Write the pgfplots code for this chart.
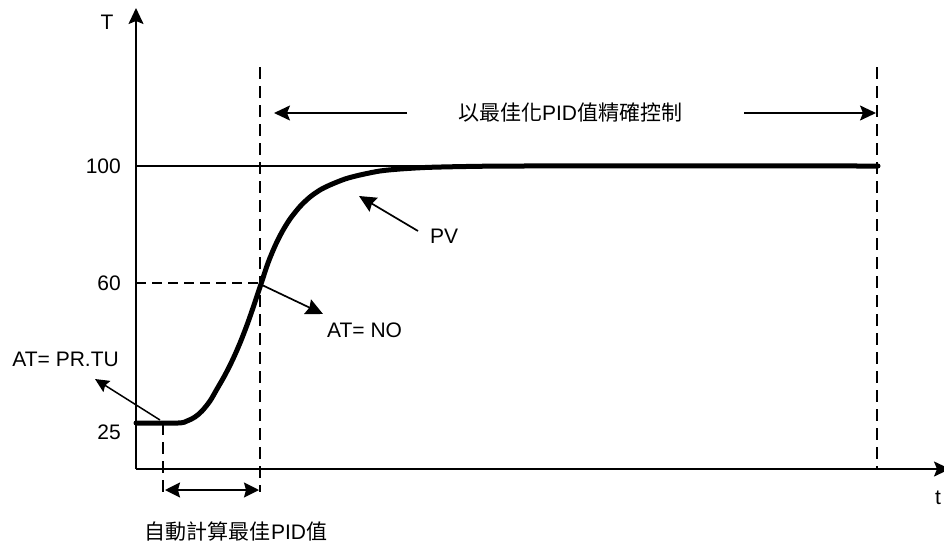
\documentclass[border=0pt]{standalone}
\usepackage{fontspec}
\setmainfont{Liberation Sans}
\newfontfamily\cjk{Noto Sans CJK TC}
\usepackage{pgfplots}
\pgfplotsset{compat=1.18}
\usetikzlibrary{arrows.meta}
\begin{document}
\fontsize{21}{25}\selectfont
\begin{tikzpicture}[every node/.style={inner sep=0pt}]
\begin{axis}[name=ax, width=944pt, height=546pt, scale only axis,
  xmin=0, xmax=944, ymin=0, ymax=546, y dir=reverse, hide axis, clip=false]
% axes
\draw[line width=1.8pt, -{Stealth[length=16pt,width=15pt,inset=3pt]}] (axis cs:136,469) -- (axis cs:136,8);
\draw[line width=1.8pt, -{Stealth[length=16pt,width=15pt,inset=3pt]}] (axis cs:136,469) -- (axis cs:950,469);
\node[anchor=center] at (axis cs:107,22) {T};
\node[anchor=center] at (axis cs:938,498) {t};
% reference lines
\draw[line width=1.2pt] (axis cs:136,166) -- (axis cs:878,166);
\draw[line width=1.4pt, dash pattern=on 10pt off 6pt] (axis cs:136,283) -- (axis cs:262,283);
\draw[line width=1.4pt, dash pattern=on 12pt off 7pt] (axis cs:163,423) -- (axis cs:163,492);
\draw[line width=1.4pt, dash pattern=on 12pt off 7pt] (axis cs:260,67) -- (axis cs:260,492);
\draw[line width=1.4pt, dash pattern=on 12pt off 7pt] (axis cs:877,67) -- (axis cs:877,469);
% tick labels
\node[anchor=east] at (axis cs:121,166) {100};
\node[anchor=east] at (axis cs:121,283) {60};
\node[anchor=east] at (axis cs:121,432) {25};
% PV curve
\addplot[black, line width=5pt, line cap=round, smooth, tension=0.5] coordinates {
(136,423) (178,423) (187,421) (195,417) (202,411) (210,401) (217,389) (225,375)
(233,359) (240,343) (247,325) (254,305) (261,284) (268,263) (275,246) (282,232)
(290,219) (300,206.5) (310,197) (320,190) (330,185) (345,179) (360,175) (380,171)
(400,169) (425,167.5) (450,166.8) (480,166.3) (520,166) (878,166)};
% annotation arrows
\draw[line width=1.7pt, -{Stealth[length=17pt,width=16pt,inset=2pt]}] (axis cs:418,231) -- (axis cs:359,196);
\node[anchor=west] at (axis cs:430,236) {PV};
\draw[line width=1.7pt, -{Stealth[length=17pt,width=16pt,inset=2pt]}] (axis cs:262,285) -- (axis cs:323,314);
\node[anchor=west] at (axis cs:327,330) {AT= NO};
\draw[line width=1.5pt, -{Stealth[length=14pt,width=13pt,inset=2pt]}] (axis cs:160,420) -- (axis cs:95,379);
\node[anchor=east] at (axis cs:119,359) {AT= PR.TU};
% double arrow
\draw[line width=1.7pt, {Stealth[length=15pt,width=15pt,inset=2pt]}-{Stealth[length=15pt,width=15pt,inset=2pt]}] (axis cs:165,490) -- (axis cs:259,490);
\node[anchor=center] at (axis cs:236,532) {{\cjk 自動計算最佳}PID{\cjk 值}};
% top arrows
\draw[line width=1.7pt, -{Stealth[length=16pt,width=15pt,inset=3pt]}] (axis cs:407,113) -- (axis cs:274,113);
\draw[line width=1.7pt, -{Stealth[length=16pt,width=15pt,inset=3pt]}] (axis cs:744,113) -- (axis cs:876,113);
\node[anchor=center] at (axis cs:570,113) {{\cjk 以最佳化}PID{\cjk 值精確控制}};
\end{axis}
\pgfresetboundingbox
\useasboundingbox (ax.south west) rectangle (ax.north east);
\end{tikzpicture}
\end{document}
